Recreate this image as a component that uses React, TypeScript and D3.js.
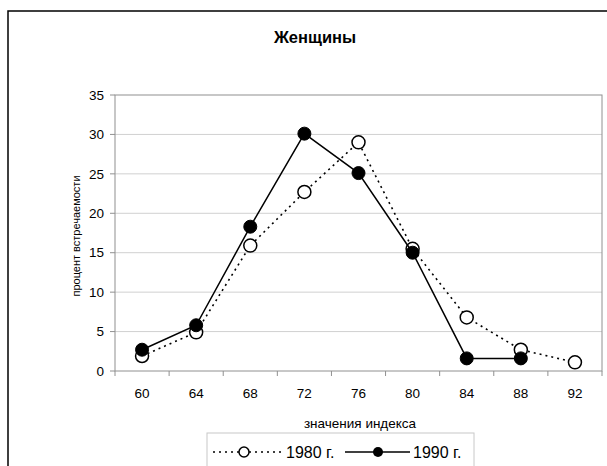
import * as d3 from "d3";

// data
const categories = ["60", "64", "68", "72", "76", "80", "84", "88", "92"];
const values1980 = [1.9, 4.9, 15.9, 22.7, 29.0, 15.5, 6.8, 2.7, 1.1];
const values1990 = [2.7, 5.8, 18.3, 30.1, 25.1, 15.0, 1.6, 1.6];
const yTicks = [0, 5, 10, 15, 20, 25, 30, 35];

const font = "Arial, 'Liberation Sans', sans-serif";

function App() {
  // plot area
  const left = 115, right = 602, top = 95, bottom = 371;

  const x = d3.scaleBand().domain(categories).range([left, right]);
  const y = d3.scaleLinear().domain([0, 35]).range([bottom, top]);
  const cx = (c: string) => (x(c) as number) + x.bandwidth() / 2;

  const line = d3.line<number>()
    .x((d, i) => cx(categories[i]))
    .y(d => y(d));

  const boundaries = categories.map(c => x(c) as number).concat([right]);

  return (
    <svg width={607} height={466} style={{position: "absolute", left: 0, top: 0}}>
      <rect x={0} y={0} width={607} height={466} fill="#fff" />
      {/* chart frame */}
      <rect x={8} y={11} width={640} height={520} fill="none" stroke="#000" strokeWidth={1.5} />

      <text x={315} y={43} textAnchor="middle" fontFamily={font} fontSize={16.5} fontWeight="bold">Женщины</text>

      {/* gridlines */}
      {yTicks.filter(t => t > 0 && t < 35).map(t => (
        <line key={t} x1={left} x2={right} y1={y(t)} y2={y(t)} stroke="#d0d0d0" />
      ))}
      <rect x={left} y={top} width={right - left} height={bottom - top} fill="none" stroke="#909090" />

      {/* y axis */}
      {yTicks.map(t => (
        <g key={t}>
          <line x1={left - 5} x2={left} y1={y(t)} y2={y(t)} stroke="#909090" />
          <text x={104} y={y(t)} dy="0.35em" textAnchor="end" fontFamily={font} fontSize={13.5}>{t}</text>
        </g>
      ))}

      {/* x axis */}
      {boundaries.map((b, i) => (
        <line key={i} x1={b} x2={b} y1={bottom} y2={bottom + 5} stroke="#909090" />
      ))}
      {categories.map(c => (
        <text key={c} x={cx(c)} y={398} textAnchor="middle" fontFamily={font} fontSize={13.5}>{c}</text>
      ))}

      <text x={360} y={428} textAnchor="middle" fontFamily={font} fontSize={13.5}>значения индекса</text>
      <text transform={`translate(80,236) rotate(-90)`} textAnchor="middle" fontFamily={font} fontSize={11}>процент встречаемости</text>

      {/* 1980 series */}
      <path d={line(values1980) as string} fill="none" stroke="#000" strokeWidth={1.6} strokeDasharray="2,4" />
      {values1980.map((v, i) => (
        <circle key={i} cx={cx(categories[i])} cy={y(v)} r={6.5} fill="#fff" stroke="#000" strokeWidth={1.5} />
      ))}

      {/* 1990 series */}
      <path d={line(values1990) as string} fill="none" stroke="#000" strokeWidth={1.5} />
      {values1990.map((v, i) => (
        <circle key={i} cx={cx(categories[i])} cy={y(v)} r={6.5} fill="#000" stroke="#000" strokeWidth={1} />
      ))}

      {/* legend */}
      <rect x={207} y={433} width={267} height={60} fill="#fff" stroke="#c8c8c8" />
      <line x1={213} x2={282} y1={452} y2={452} stroke="#000" strokeWidth={1.6} strokeDasharray="2,4" />
      <circle cx={244} cy={452} r={5} fill="#fff" stroke="#000" strokeWidth={1.5} />
      <text x={286} y={452} dy="0.36em" fontFamily={font} fontSize={16}>1980 г.</text>
      <line x1={345} x2={410} y1={452} y2={452} stroke="#000" strokeWidth={1.5} />
      <circle cx={378} cy={452} r={5} fill="#000" />
      <text x={413} y={452} dy="0.36em" fontFamily={font} fontSize={16}>1990 г.</text>
    </svg>
  );
}

export default App;
